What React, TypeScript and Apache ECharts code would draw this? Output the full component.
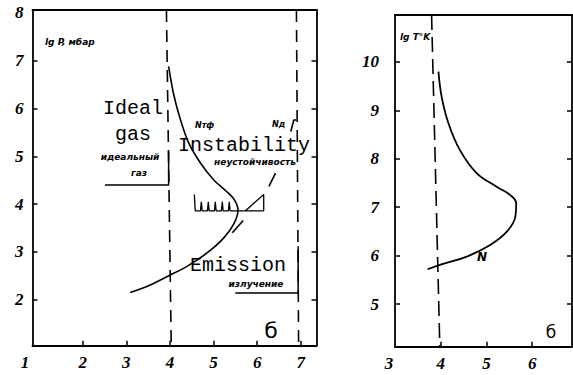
import React, { useEffect, useRef } from "react";
import * as echarts from "echarts";

// Left panel (lg P, mbar vs. x)
const leftCurveX = [3.97, 4.08, 4.24, 4.43, 4.70, 5.00, 5.28, 5.47, 5.56, 5.47, 5.23, 4.85, 4.39, 4.01, 3.55, 3.09];
const leftCurveY = [6.88, 6.32, 5.77, 5.28, 4.86, 4.51, 4.28, 4.10, 3.88, 3.60, 3.29, 2.98, 2.70, 2.52, 2.31, 2.15];
// N_A boundary, three visible pieces
const naSegAX = [5.43, 5.68];
const naSegAY = [3.40, 3.66];
const naSegBX = [6.27, 6.42];
const naSegBY = [4.37, 4.65];
const naSegCX = [6.77, 6.84, 6.9];
const naSegCY = [5.52, 5.76, 5.76];
// hatched boundary
const hatchX = [4.56, 4.58, 4.70, 4.72, 4.74, 4.86, 4.88, 4.90, 5.02, 5.04, 5.06, 5.18, 5.20, 5.22, 5.34, 5.36, 5.38, 5.73, 6.15, 6.15, 5.73];
const hatchY = [4.20, 3.86, 3.86, 4.05, 3.86, 3.86, 4.05, 3.86, 3.86, 4.05, 3.86, 3.86, 4.05, 3.86, 3.86, 4.05, 3.86, 3.86, 4.20, 3.86, 3.86];
// region boxes
const idealBoxX = [2.51, 3.97, 3.97];
const idealBoxY = [4.40, 4.40, 5.10];
const emissionBoxX = [5.50, 6.94, 6.94];
const emissionBoxY = [2.14, 2.14, 3.12];
// dashed verticals (left)
const dashLeft4X = [3.92, 4.03];
const dashLeft4Y = [8.06, 1.04];
const dashLeft7X = [6.90, 6.95];
const dashLeft7Y = [8.06, 1.04];

// Right panel (lg T, K)
const rightCurveX = [3.95, 4.02, 4.17, 4.42, 4.79, 5.23, 5.52, 5.65, 5.63, 5.44, 5.08, 4.57, 3.98, 3.71];
const rightCurveY = [9.80, 9.28, 8.73, 8.18, 7.70, 7.42, 7.25, 7.08, 6.80, 6.49, 6.22, 5.98, 5.81, 5.72];
const dashRightX = [3.80, 3.98];
const dashRightY = [10.97, 4.12];

// ticks / labels
const leftXLabels = [1, 2, 3, 4, 5, 6, 7];
const leftXTicks = [2, 3, 4, 5, 6, 7];
const leftYLabels = [2, 3, 4, 5, 6, 7, 8];
const leftYTicks = [2, 3, 4, 5, 6, 7];
const rightXLabels = [3, 4, 5, 6];
const rightXTicks = [4, 5, 6];
const rightYLabels = [5, 6, 7, 8, 9, 10];
const rightYTicks = [5, 6, 7, 8, 9, 10];

const zip = (xs: number[], ys: number[]) => xs.map((x, i) => [x, ys[i]]);

const digitFont = {
  fontFamily: "Liberation Serif",
  fontStyle: "italic" as const,
  fontWeight: "bold" as const,
  fontSize: 17,
  color: "#000",
};

const axisLineStyle = { show: true, lineStyle: { color: "#000", width: 1.8 } };

export default function App() {
  const ref = useRef<HTMLDivElement>(null);
  useEffect(() => {
    if (!ref.current) return;
    const chart = echarts.init(ref.current, undefined, { renderer: "svg" });
    const line = (xi: number, yi: number, data: number[][], extra: any = {}) => ({
      type: "line",
      xAxisIndex: xi,
      yAxisIndex: yi,
      data,
      showSymbol: false,
      symbol: "none",
      silent: true,
      lineStyle: { color: "#000", width: 1.6, ...(extra.lineStyle || {}) },
      smooth: extra.smooth ?? false,
    });
    const hand = (size: number) => `italic bold ${size}px "DejaVu Sans"`;
    const mono = `20px "Liberation Mono"`;
    const txt = (x: number, y: number, text: string, font: string, align = "left") => ({
      type: "text",
      x,
      y,
      silent: true,
      style: { text, font, fill: "#000", textAlign: align, textVerticalAlign: "middle" },
    });
    chart.setOption({
      animation: false,
      backgroundColor: "#fff",
      grid: [
        { left: 32.5, top: 10, width: 284, height: 335.7, show: false },
        { left: 395, top: 15, width: 177, height: 331.7, show: false },
      ],
      xAxis: [
        {
          gridIndex: 0, type: "value", min: 0.85, max: 7.36, position: "bottom",
          axisLine: axisLineStyle, splitLine: { show: false },
          axisTick: { show: true, inside: true, length: 5, customValues: leftXTicks, lineStyle: { color: "#000", width: 1.5 } },
          axisLabel: {
            ...digitFont, margin: 8, customValues: leftXLabels,
            formatter: (v: number) => (v === 1 ? `{s|${v}}` : `${v}`),
            rich: { s: { ...digitFont, padding: [0, 28, 0, 0] } },
          },
        },
        {
          gridIndex: 0, type: "value", min: 0.85, max: 7.36, position: "top",
          axisLine: axisLineStyle, splitLine: { show: false }, axisTick: { show: false }, axisLabel: { show: false },
        },
        {
          gridIndex: 1, type: "value", min: 3, max: 6.87, position: "bottom",
          axisLine: axisLineStyle, splitLine: { show: false },
          axisTick: { show: true, inside: true, length: 5, customValues: rightXTicks, lineStyle: { color: "#000", width: 1.5 } },
          axisLabel: {
            ...digitFont, margin: 8, customValues: rightXLabels,
            formatter: (v: number) => (v === 3 ? `{s|${v}}` : `${v}`),
            rich: { s: { ...digitFont, padding: [0, 12, 0, 0] } },
          },
        },
        {
          gridIndex: 1, type: "value", min: 3, max: 6.87, position: "top",
          axisLine: axisLineStyle, splitLine: { show: false }, axisTick: { show: false }, axisLabel: { show: false },
        },
      ],
      yAxis: [
        {
          gridIndex: 0, type: "value", min: 1.04, max: 8.06, position: "left",
          axisLine: axisLineStyle, splitLine: { show: false },
          axisTick: { show: true, inside: true, length: 5, customValues: leftYTicks, lineStyle: { color: "#000", width: 1.5 } },
          axisLabel: { ...digitFont, margin: 9, customValues: leftYLabels },
        },
        {
          gridIndex: 0, type: "value", min: 1.04, max: 8.06, position: "right",
          axisLine: axisLineStyle, splitLine: { show: false },
          axisTick: { show: true, inside: true, length: 5, customValues: leftYTicks, lineStyle: { color: "#000", width: 1.5 } },
          axisLabel: { show: false },
        },
        {
          gridIndex: 1, type: "value", min: 4.12, max: 10.97, position: "left",
          axisLine: axisLineStyle, splitLine: { show: false },
          axisTick: { show: true, inside: true, length: 5, customValues: rightYTicks, lineStyle: { color: "#000", width: 1.5 } },
          axisLabel: { ...digitFont, margin: 16, customValues: rightYLabels },
        },
        {
          gridIndex: 1, type: "value", min: 4.12, max: 10.97, position: "right",
          axisLine: axisLineStyle, splitLine: { show: false },
          axisTick: { show: true, inside: true, length: 5, customValues: rightYTicks, lineStyle: { color: "#000", width: 1.5 } },
          axisLabel: { show: false },
        },
      ],
      series: [
        line(0, 0, zip(leftCurveX, leftCurveY), { smooth: 0.3 }),
        line(0, 0, zip(naSegAX, naSegAY)),
        line(0, 0, zip(naSegBX, naSegBY)),
        line(0, 0, zip(naSegCX, naSegCY)),
        line(0, 0, zip(hatchX, hatchY), { lineStyle: { width: 1.3 } }),
        line(0, 0, zip(idealBoxX, idealBoxY), { lineStyle: { width: 1.5 } }),
        line(0, 0, zip(emissionBoxX, emissionBoxY), { lineStyle: { width: 1.5 } }),
        line(0, 0, zip(dashLeft4X, dashLeft4Y), { lineStyle: { width: 1.6, type: [12, 8] } }),
        line(0, 0, zip(dashLeft7X, dashLeft7Y), { lineStyle: { width: 1.6, type: [12, 8] } }),
        line(2, 2, zip(rightCurveX, rightCurveY), { smooth: 0.4, lineStyle: { width: 1.8 } }),
        line(2, 2, zip(dashRightX, dashRightY), { lineStyle: { width: 1.6, type: [15, 7] } }),
      ],
      graphic: [
        txt(45, 42, "lg P, мбар", hand(9)),
        txt(103, 108, "Ideal", mono),
        txt(133, 134, "gas", mono, "center"),
        txt(130, 157, "идеальный", hand(9), "center"),
        txt(139, 173, "газ", hand(9), "center"),
        txt(178, 145, "Instability", mono),
        txt(255, 162, "неустойчивость", hand(9), "center"),
        txt(190, 265, "Emission", mono),
        txt(256, 284, "излучение", hand(9), "center"),
        txt(195, 125, "Nтф", hand(8)),
        txt(272, 124, "Nд", hand(8)),
        txt(271, 330, "б", `22px "DejaVu Sans"`, "center"),
        txt(400, 37, "lg T°K", hand(9)),
        txt(482, 257, "N", hand(12), "center"),
        txt(551, 332, "б", `17px "DejaVu Sans"`, "center"),
      ],
    });
    return () => chart.dispose();
  }, []);
  return (
    <div
      ref={ref}
      style={{ position: "fixed", left: 0, top: 0, width: 573, height: 375, background: "#fff" }}
    />
  );
}
